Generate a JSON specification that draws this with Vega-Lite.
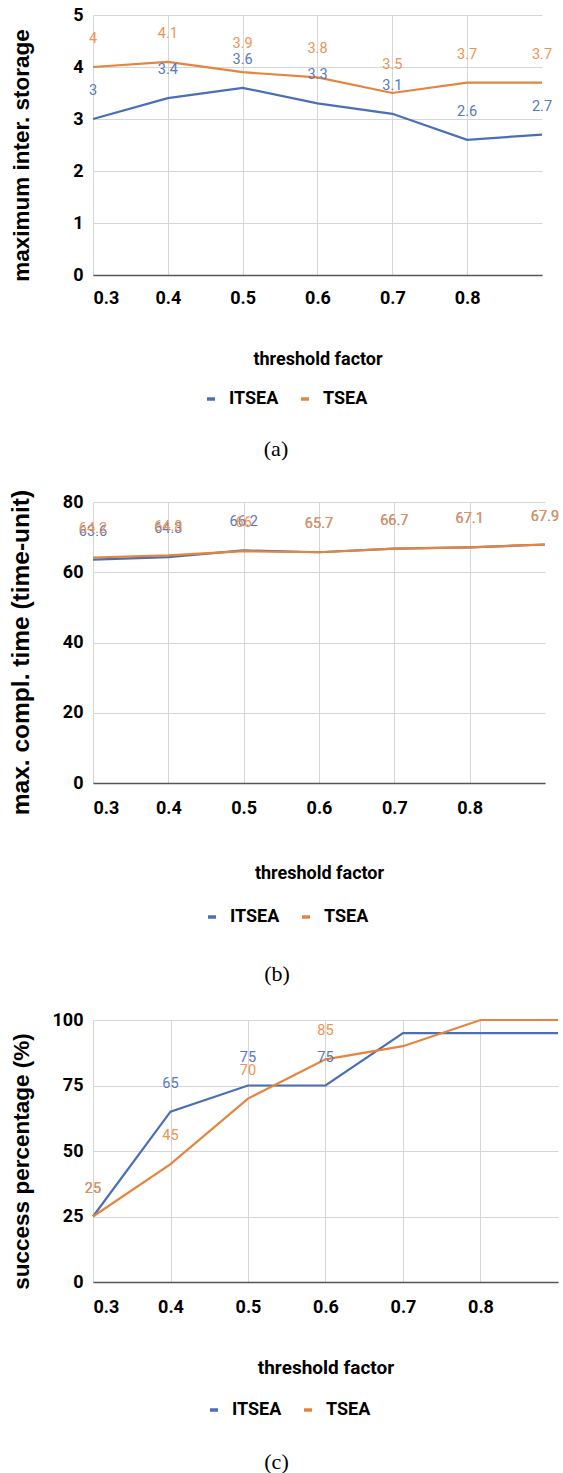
{
  "$schema": "https://vega.github.io/schema/vega-lite/v6.json",
  "background": "white",
  "padding": {"left": 7, "top": 6, "right": 0, "bottom": 0},
  "config": {
    "view": {"stroke": null},
    "axis": {
      "labelFont": "Roboto",
      "labelFontWeight": "bold",
      "labelFontSize": 18,
      "labelColor": "#000000",
      "titleColor": "#000000",
      "gridColor": "#d6d6d6",
      "gridWidth": 1,
      "ticks": false
    },
    "legend": {
      "orient": "none",
      "direction": "horizontal",
      "title": null,
      "symbolType": "stroke",
      "symbolStrokeWidth": 3.5,
      "symbolSize": 64,
      "labelFont": "Roboto",
      "labelFontWeight": "bold",
      "labelFontSize": 18,
      "labelColor": "#000000",
      "labelOffset": 9,
      "columnPadding": 15
    }
  },
  "datasets": {
    "a": [
      {"x": 0.3, "s": "ITSEA", "v": 3}, {"x": 0.4, "s": "ITSEA", "v": 3.4}, {"x": 0.5, "s": "ITSEA", "v": 3.6},
      {"x": 0.6, "s": "ITSEA", "v": 3.3}, {"x": 0.7, "s": "ITSEA", "v": 3.1}, {"x": 0.8, "s": "ITSEA", "v": 2.6},
      {"x": 0.9, "s": "ITSEA", "v": 2.7},
      {"x": 0.3, "s": "TSEA", "v": 4}, {"x": 0.4, "s": "TSEA", "v": 4.1}, {"x": 0.5, "s": "TSEA", "v": 3.9},
      {"x": 0.6, "s": "TSEA", "v": 3.8}, {"x": 0.7, "s": "TSEA", "v": 3.5}, {"x": 0.8, "s": "TSEA", "v": 3.7},
      {"x": 0.9, "s": "TSEA", "v": 3.7}
    ],
    "b": [
      {"x": 0.3, "s": "ITSEA", "v": 63.6}, {"x": 0.4, "s": "ITSEA", "v": 64.3}, {"x": 0.5, "s": "ITSEA", "v": 66.2},
      {"x": 0.6, "s": "ITSEA", "v": 65.7}, {"x": 0.7, "s": "ITSEA", "v": 66.7}, {"x": 0.8, "s": "ITSEA", "v": 67.1},
      {"x": 0.9, "s": "ITSEA", "v": 67.9},
      {"x": 0.3, "s": "TSEA", "v": 64.2}, {"x": 0.4, "s": "TSEA", "v": 64.8}, {"x": 0.5, "s": "TSEA", "v": 66},
      {"x": 0.6, "s": "TSEA", "v": 65.7}, {"x": 0.7, "s": "TSEA", "v": 66.7}, {"x": 0.8, "s": "TSEA", "v": 67.1},
      {"x": 0.9, "s": "TSEA", "v": 67.9}
    ],
    "c": [
      {"x": 0.3, "s": "ITSEA", "v": 25}, {"x": 0.4, "s": "ITSEA", "v": 65}, {"x": 0.5, "s": "ITSEA", "v": 75},
      {"x": 0.6, "s": "ITSEA", "v": 75}, {"x": 0.7, "s": "ITSEA", "v": 95}, {"x": 0.8, "s": "ITSEA", "v": 95},
      {"x": 0.9, "s": "ITSEA", "v": 95},
      {"x": 0.3, "s": "TSEA", "v": 25}, {"x": 0.4, "s": "TSEA", "v": 45}, {"x": 0.5, "s": "TSEA", "v": 70},
      {"x": 0.6, "s": "TSEA", "v": 85}, {"x": 0.7, "s": "TSEA", "v": 90}, {"x": 0.8, "s": "TSEA", "v": 100},
      {"x": 0.9, "s": "TSEA", "v": 100}
    ]
  },
  "bounds": "flush",
  "spacing": 227,
  "resolve": {"scale": {"stroke": "independent", "fill": "independent"}, "legend": {"stroke": "independent", "fill": "independent"}},
  "vconcat": [
    {
      "width": 449,
      "height": 260,
      "data": {"name": "a"},
      "title": {"text": "(a)", "orient": "bottom", "font": "Liberation Serif", "fontSize": 22, "fontWeight": "normal", "color": "#000000", "dx": -41.5, "offset": 31},
      "encoding": {
        "x": {
          "field": "x", "type": "quantitative",
          "scale": {"domain": [0.3, 0.9], "nice": false, "zero": false},
          "axis": {
            "values": [0.3, 0.4, 0.5, 0.6, 0.7, 0.8], "format": ".1f", "grid": true,
            "title": "threshold factor", "titleFont": "Roboto", "titleFontWeight": "bold", "titleFontSize": 18,
            "titleBaseline": "middle", "titleY": 84, "labelPadding": 14, "domainColor": "#555555", "domainWidth": 1.5
          }
        },
        "y": {
          "field": "v", "type": "quantitative",
          "scale": {"domain": [0, 5], "nice": false},
          "axis": {
            "values": [0, 1, 2, 3, 4, 5], "domain": false, "labelPadding": 10,
            "title": "maximum inter. storage", "titleFont": "Liberation Sans", "titleFontWeight": "bold", "titleFontSize": 22.5,
            "titleBaseline": "middle", "titleX": -72, "titleY": 140
          }
        }
      },
      "layer": [
        {
          "mark": {"type": "line", "strokeWidth": 2.2},
          "encoding": {
            "stroke": {
              "field": "s", "type": "nominal",
              "scale": {"domain": ["ITSEA", "TSEA"], "range": ["#4a6fb5", "#e6843e"]},
              "legend": {"legendX": 109, "legendY": 375}
            }
          }
        },
        {
          "mark": {"type": "text", "dy": -28, "font": "Roboto", "fontSize": 14.5},
          "encoding": {
            "text": {"field": "v", "type": "quantitative", "format": "~g"},
            "fill": {"field": "s", "type": "nominal", "scale": {"domain": ["ITSEA", "TSEA"], "range": ["#5679be", "#eb9453"]}, "legend": null}
          }
        }
      ]
    },
    {
      "bounds": "flush",
      "spacing": 237,
      "resolve": {"scale": {"stroke": "independent", "fill": "independent"}, "legend": {"stroke": "independent", "fill": "independent"}},
      "vconcat": [
        {
          "width": 452,
          "height": 281,
          "data": {"name": "b"},
          "title": {"text": "(b)", "orient": "bottom", "font": "Liberation Serif", "fontSize": 22, "fontWeight": "normal", "color": "#000000", "dx": -42, "offset": 38},
          "encoding": {
            "x": {
              "field": "x", "type": "quantitative",
              "scale": {"domain": [0.3, 0.9], "nice": false, "zero": false},
              "axis": {
                "values": [0.3, 0.4, 0.5, 0.6, 0.7, 0.8], "format": ".1f", "grid": true,
                "title": "threshold factor", "titleFont": "Roboto", "titleFontWeight": "bold", "titleFontSize": 18,
                "titleBaseline": "middle", "titleY": 90, "labelPadding": 16, "domainColor": "#555555", "domainWidth": 1.5
              }
            },
            "y": {
              "field": "v", "type": "quantitative",
              "scale": {"domain": [0, 80], "nice": false},
              "axis": {
                "values": [0, 20, 40, 60, 80], "domain": false, "labelPadding": 10,
                "title": "max. compl. time (time-unit)", "titleFont": "Liberation Sans", "titleFontWeight": "bold", "titleFontSize": 24.5,
                "titleBaseline": "middle", "titleX": -72, "titleY": 150
              }
            }
          },
          "layer": [
            {
              "mark": {"type": "line", "strokeWidth": 2.2},
              "encoding": {
                "stroke": {
                  "field": "s", "type": "nominal",
                  "scale": {"domain": ["ITSEA", "TSEA"], "range": ["#4a6fb5", "#e6843e"]},
                  "legend": {"legendX": 110, "legendY": 406}
                }
              }
            },
            {
              "mark": {"type": "text", "dy": -28, "font": "Roboto", "fontSize": 14.5},
              "encoding": {
                "text": {"field": "v", "type": "quantitative", "format": "~g"},
                "fill": {"field": "s", "type": "nominal", "scale": {"domain": ["ITSEA", "TSEA"], "range": ["#5679be", "#eb9453"]}, "legend": null}
              }
            }
          ]
        },
        {
          "width": 465,
          "height": 262,
          "data": {"name": "c"},
          "title": {"text": "(c)", "orient": "bottom", "font": "Liberation Serif", "fontSize": 22, "fontWeight": "normal", "color": "#000000", "dx": -49, "offset": 33},
          "encoding": {
            "x": {
              "field": "x", "type": "quantitative",
              "scale": {"domain": [0.3, 0.9], "nice": false, "zero": false},
              "axis": {
                "values": [0.3, 0.4, 0.5, 0.6, 0.7, 0.8], "format": ".1f", "grid": true,
                "title": "threshold factor", "titleFont": "Roboto", "titleFontWeight": "bold", "titleFontSize": 19,
                "titleBaseline": "middle", "titleY": 85, "labelPadding": 16, "domainColor": "#555555", "domainWidth": 1.5
              }
            },
            "y": {
              "field": "v", "type": "quantitative",
              "scale": {"domain": [0, 100], "nice": false},
              "axis": {
                "values": [0, 25, 50, 75, 100], "domain": false, "labelPadding": 10,
                "title": "success percentage (%)", "titleFont": "Liberation Sans", "titleFontWeight": "bold", "titleFontSize": 22.5,
                "titleBaseline": "middle", "titleX": -72, "titleY": 141
              }
            }
          },
          "layer": [
            {
              "mark": {"type": "line", "strokeWidth": 2.2},
              "encoding": {
                "stroke": {
                  "field": "s", "type": "nominal",
                  "scale": {"domain": ["ITSEA", "TSEA"], "range": ["#4a6fb5", "#e6843e"]},
                  "legend": {"legendX": 112, "legendY": 381}
                }
              }
            },
            {
              "transform": [{"filter": "datum.x <= 0.6"}],
              "mark": {"type": "text", "dy": -28, "font": "Roboto", "fontSize": 14.5},
              "encoding": {
                "text": {"field": "v", "type": "quantitative", "format": "~g"},
                "fill": {"field": "s", "type": "nominal", "scale": {"domain": ["ITSEA", "TSEA"], "range": ["#5679be", "#eb9453"]}, "legend": null}
              }
            }
          ]
        }
      ]
    }
  ]
}
